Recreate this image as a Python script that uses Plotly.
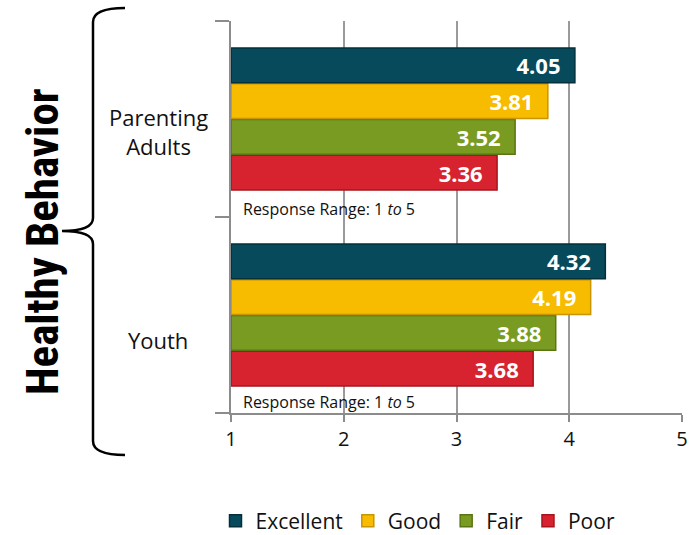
import plotly.graph_objects as go

categories = ["Youth", "Parenting Adults"]
series_names = ["Excellent", "Good", "Fair", "Poor"]
excellent = [4.32, 4.05]
good = [4.19, 3.81]
fair = [3.88, 3.52]
poor = [3.68, 3.36]
x_ticks = [1, 2, 3, 4, 5]
colors = {"Excellent": "#064a5b", "Good": "#f7bb00", "Fair": "#7a9b22", "Poor": "#d7232f"}
edge = {"Excellent": "#03303c", "Good": "#c99500", "Fair": "#5a7516", "Poor": "#a8151f"}

values = {"Excellent": excellent, "Good": good, "Fair": fair, "Poor": poor}

W, H = 700, 535
L, R, T, B = 231, 18, 21, 122
pw, ph = W - L - R, H - T - B
FONT = "Open Sans, Noto Sans, sans-serif"

def px(x):
    return (x - L) / pw

def py(y):
    return (H - B - y) / ph

fig = go.Figure()
for name in reversed(series_names):
    fig.add_trace(go.Bar(
        y=categories, x=[v - 1 for v in values[name]], base=1,
        orientation="h", name=name,
        marker=dict(color=colors[name], line=dict(color=edge[name], width=1.5)),
        text=[f"{v:.2f}" for v in values[name]],
        textposition="inside", insidetextanchor="end", constraintext="none",
        textfont=dict(family=FONT, size=22, color="white"),
        texttemplate="<b>%{text}</b>\u00a0\u00a0",
        hoverinfo="skip",
    ))

brace = (f"M {px(125)} {py(8)} Q {px(93)} {py(8)} {px(93)} {py(22)} "
         f"L {px(93)} {py(218)} Q {px(93)} {py(231)} {px(62)} {py(231)} "
         f"Q {px(93)} {py(231)} {px(93)} {py(244)} "
         f"L {px(93)} {py(441)} Q {px(93)} {py(455)} {px(125)} {py(455)}")

fig.update_layout(
    width=W, height=H,
    margin=dict(l=L, r=R, t=T, b=B, autoexpand=False),
    plot_bgcolor="white", paper_bgcolor="white",
    barmode="group", bargap=0.27, bargroupgap=0.03,
    font=dict(family=FONT, color="#111"),
    xaxis=dict(range=[1, 5], tickvals=x_ticks, showgrid=True, gridcolor="#9a9a9a", gridwidth=1.5,
               showline=True, linecolor="#8c8c8c", linewidth=2, ticks="outside", ticklen=7,
               tickcolor="#8c8c8c", tickwidth=1.5, tickfont=dict(size=20, color="#111"), zeroline=False),
    yaxis=dict(categoryorder="array", categoryarray=categories, showticklabels=False,
               showline=True, linecolor="#8c8c8c", linewidth=2, ticks="outside", ticklen=14,
               tickson="boundaries", tickcolor="#8c8c8c", tickwidth=1.5, showgrid=False),
    showlegend=True,
    legend=dict(orientation="h", x=px(418), xanchor="center", y=py(521), yanchor="middle",
                traceorder="reversed", font=dict(size=21, color="#111")),
    shapes=[dict(type="path", xref="paper", yref="paper", path=brace,
                 line=dict(color="black", width=2.5))],
    annotations=[
        dict(text="Parenting<br>Adults", xref="paper", yref="paper", x=px(158), y=py(131),
             xanchor="center", yanchor="middle",
             showarrow=False, font=dict(size=22, color="#111"), align="center"),
        dict(text="Youth", xref="paper", yref="paper", x=px(158), y=py(340),
             xanchor="center", yanchor="middle",
             showarrow=False, font=dict(size=22, color="#111")),
        dict(text="Response Range: 1 <i>to</i> 5", xref="paper", yref="paper", x=px(241), y=py(209),
             xanchor="left", yanchor="middle", showarrow=False, font=dict(size=16, color="#111")),
        dict(text="Response Range: 1 <i>to</i> 5", xref="paper", yref="paper", x=px(241), y=py(402),
             xanchor="left", yanchor="middle", showarrow=False, font=dict(size=16, color="#111")),
        dict(text="<b>Healthy Behavior</b>", xref="paper", yref="paper", x=px(43), y=py(242),
             xanchor="center", yanchor="middle",
             textangle=-90, showarrow=False,
             font=dict(family="Roboto Condensed, Liberation Sans Narrow, Roboto, sans-serif", size=45, color="black")),
    ],
)

fig.write_html("out.html", config={"displayModeBar": False},
               post_script="document.body.style.margin='0px';")
